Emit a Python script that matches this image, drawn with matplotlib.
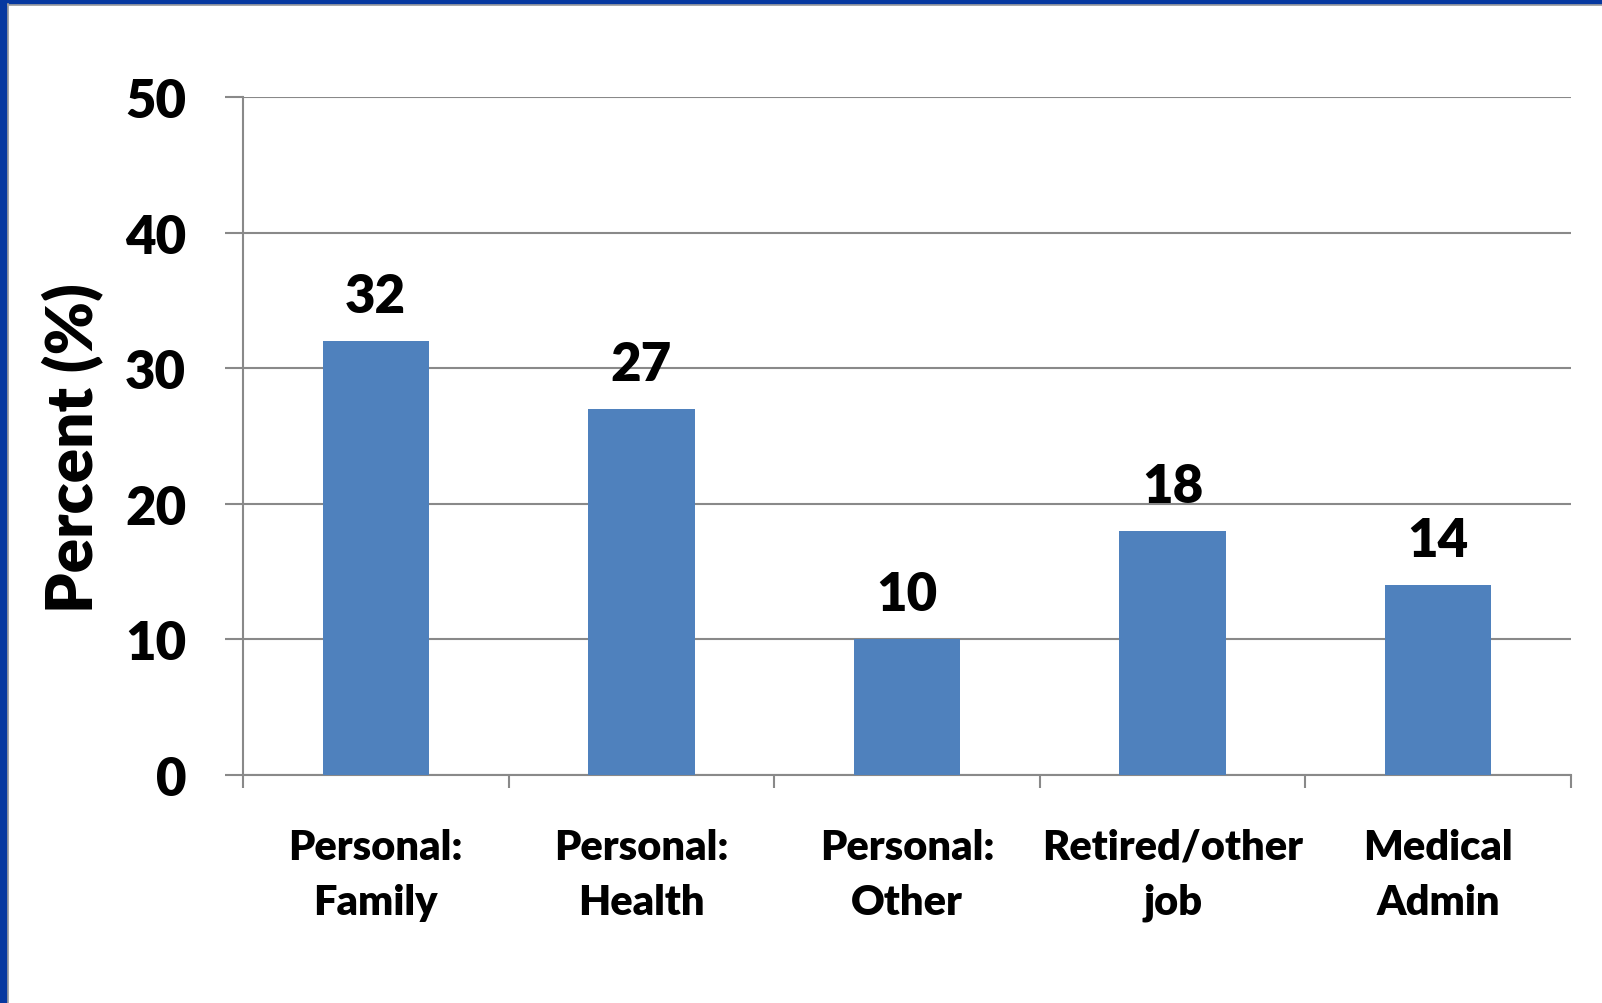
import matplotlib
matplotlib.use('Agg')
import matplotlib.pyplot as plt
from matplotlib.patches import Rectangle
from matplotlib.lines import Line2D
import numpy as np

categories = ['Personal:\nFamily', 'Personal:\nHealth', 'Personal:\nOther',
              'Retired/other\njob', 'Medical\nAdmin']
values = [32, 27, 10, 18, 14]
y_ticks = [0, 10, 20, 30, 40, 50]

BAR_COLOR = '#4F81BD'
GRID_COLOR = '#898989'
FRAME_BLUE = '#0638A0'
WEIGHT = 'heavy'

plt.rcParams['font.family'] = ['Lato', 'DejaVu Sans']

W, H = 1602, 1004
fig = plt.figure(figsize=(W / 100, H / 100), dpi=100)

# slide frame: blue band on left and top, thin grey line inside
fig.patches.append(Rectangle((0, 0), 7 / W, 1, transform=fig.transFigure,
                             color=FRAME_BLUE, zorder=0))
fig.patches.append(Rectangle((0, 1 - 5 / H), 1, 5 / H, transform=fig.transFigure,
                             color=FRAME_BLUE, zorder=0))
fig.lines.append(Line2D([8 / W, 8 / W], [0, 1 - 5 / H], transform=fig.transFigure,
                        color='#A0A0A0', lw=1.2))
fig.lines.append(Line2D([8 / W, 1], [1 - 6 / H, 1 - 6 / H], transform=fig.transFigure,
                        color='#A0A0A0', lw=1.2))

left, right, top, bottom = 243, 1571, 98, 776
ax = fig.add_axes([left / W, 1 - bottom / H, (right - left) / W, (bottom - top) / H])

x = np.arange(len(categories))
ax.bar(x, values, width=0.4, color=BAR_COLOR, zorder=3)

for xi, v in zip(x, values):
    ax.annotate(str(v), (xi, v), xytext=(0, 32), textcoords='offset points',
                ha='center', va='center', fontsize=38, fontweight=WEIGHT)

ax.set_xlim(-0.5, len(categories) - 0.5)
ax.set_ylim(0, 50)
ax.set_yticks(y_ticks)
ax.set_yticklabels([str(t) for t in y_ticks], fontsize=38, fontweight=WEIGHT)
ax.tick_params(axis='y', length=13, width=1.5, color=GRID_COLOR, pad=28)

ax.set_xticks(np.arange(-0.5, len(categories)), minor=False)
ax.set_xticklabels([])
ax.set_xticks(x, minor=True)
ax.set_xticklabels(categories, minor=True, fontsize=30, fontweight=WEIGHT,
                   linespacing=1.55)
ax.tick_params(axis='x', which='major', length=9, width=1.5, color=GRID_COLOR)
ax.tick_params(axis='x', which='minor', length=0, pad=38)

ax.yaxis.grid(True, color=GRID_COLOR, lw=1.5, zorder=0)
ax.set_axisbelow(True)
for s in ['top', 'right']:
    ax.spines[s].set_visible(False)
for s in ['left', 'bottom']:
    ax.spines[s].set_color(GRID_COLOR)
    ax.spines[s].set_linewidth(1.5)

ax.set_ylabel('Percent (%)', fontsize=46, fontweight=WEIGHT)
ax.yaxis.set_label_coords(-140 / (right - left), 0.484)

fig.savefig('out.png', dpi=100)
